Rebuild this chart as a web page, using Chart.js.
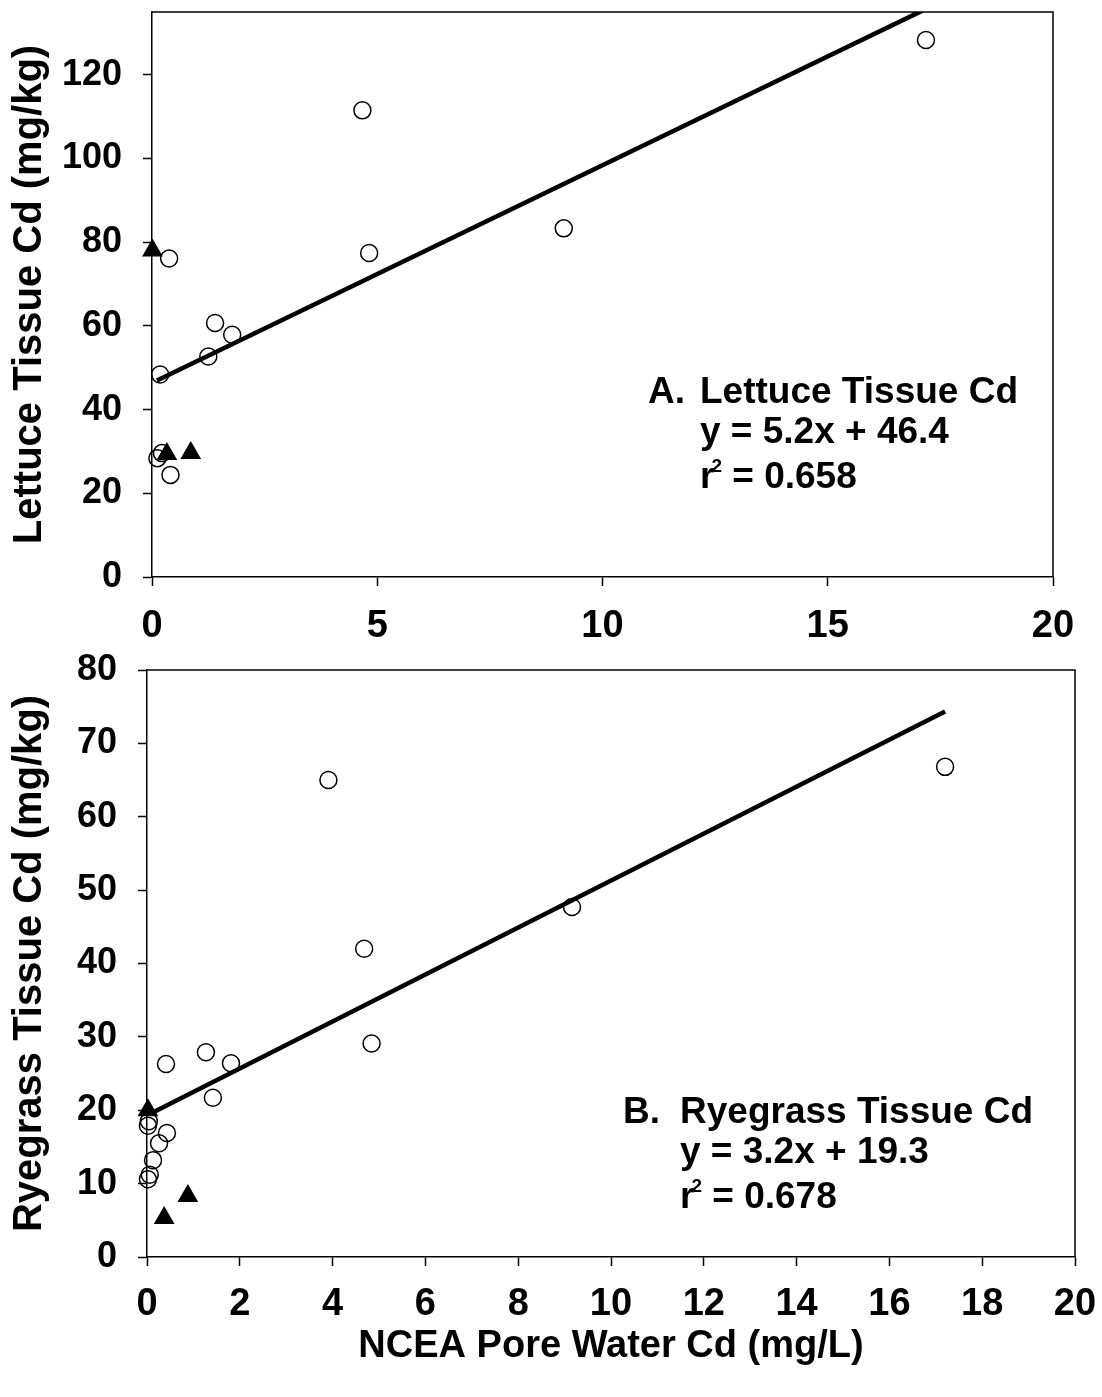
<!DOCTYPE html>
<html>
<head>
<meta charset="utf-8">
<script src="https://cdn.jsdelivr.net/npm/chart.js@4.4.0/dist/chart.umd.min.js"></script>
<style>
  body { margin: 0; background: #fff; }
  #wrap { position: relative; width: 1102px; height: 1397px; }
  .box { position: absolute; left: 0; width: 1102px; }
  #boxA { top: 0; height: 660px; }
  #boxB { top: 640px; height: 757px; }
</style>
</head>
<body>
<div id="wrap">
  <div class="box" id="boxA"><canvas id="lettuceChart"></canvas></div>
  <div class="box" id="boxB"><canvas id="ryegrassChart"></canvas></div>
</div>
<script>
// pore water Cd (mg/L) vs tissue Cd (mg/kg)
// open circles and filled triangles are two groups of soils

// --- lettuce ---
var lettuceCircleX = [17.18, 4.67, 4.82, 9.14, 0.38, 1.40, 1.78, 1.25, 0.18, 0.12, 0.22, 0.41];
var lettuceCircleY = [128.3, 111.5, 77.4, 83.3, 76.1, 60.7, 57.9, 52.7, 48.4, 28.4, 29.6, 24.4];
var lettuceTriX = [0.01, 0.33, 0.86];
var lettuceTriY = [78.0, 29.4, 29.6];
var lettuceFit = [5.2, 46.4];          // slope, intercept
var lettuceFitRange = [0.11, 17.1];
var lettuceXTicks = [0, 5, 10, 15, 20];
var lettuceYTicks = [0, 20, 40, 60, 80, 100, 120];

// --- ryegrass ---
var ryeCircleX = [17.2, 3.91, 9.16, 4.68, 4.84, 0.41, 1.27, 1.81, 1.42, 0.04, 0.02, 0.43, 0.26, 0.13, 0.06, 0.02];
var ryeCircleY = [66.8, 65.0, 47.7, 42.0, 29.1, 26.3, 27.9, 26.4, 21.7, 18.5, 17.9, 16.9, 15.5, 13.2, 11.2, 10.6];
var ryeTriX = [0.02, 0.88, 0.37];
var ryeTriY = [20.0, 8.3, 5.3];
var ryeFit = [3.2, 19.3];
var ryeFitRange = [0.05, 17.2];
var ryeXTicks = [0, 2, 4, 6, 8, 10, 12, 14, 16, 18, 20];
var ryeYTicks = [0, 10, 20, 30, 40, 50, 60, 70, 80];

var FONT = "'Liberation Sans', Arial, sans-serif";

function pairs(xs, ys) {
  return xs.map(function (x, i) { return { x: x, y: ys[i] }; });
}
function fitLine(fit, range) {
  return range.map(function (x) { return { x: x, y: fit[0] * x + fit[1] }; });
}

// box on the top and right of the plot area
var framePlugin = {
  id: 'frame',
  beforeDatasetsDraw: function (chart) {
    var a = chart.chartArea, ctx = chart.ctx;
    ctx.save();
    ctx.strokeStyle = '#000';
    ctx.lineWidth = 1.5;
    ctx.beginPath();
    ctx.moveTo(a.left, a.top);
    ctx.lineTo(a.right, a.top);
    ctx.lineTo(a.right, a.bottom);
    ctx.stroke();
    ctx.restore();
  }
};

// panel heading, regression equation and r^2
var fitTextPlugin = {
  id: 'fitText',
  afterDraw: function (chart, args, o) {
    var ctx = chart.ctx;
    ctx.save();
    ctx.fillStyle = '#000';
    ctx.textBaseline = 'alphabetic';
    ctx.font = 'bold 37px ' + FONT;
    ctx.fillText(o.letter, o.letterX, o.y1);
    ctx.fillText(o.title, o.x, o.y1);
    ctx.fillText(o.eq, o.x, o.y2);
    ctx.fillText('r', o.x, o.y3);
    var w = ctx.measureText('r').width;
    ctx.font = 'bold 19px ' + FONT;
    ctx.fillText('2', o.x + w - 3, o.y3 - 16);
    var w2 = ctx.measureText('2').width;
    ctx.font = 'bold 37px ' + FONT;
    ctx.fillText(' = ' + o.r2, o.x + w + w2 - 3, o.y3);
    ctx.restore();
  }
};

function makeChart(id, d) {
  return new Chart(document.getElementById(id), {
    type: 'scatter',
    data: {
      datasets: [
        {
          label: 'fit',
          type: 'line',
          data: fitLine(d.fit, d.fitRange),
          borderColor: '#000',
          borderWidth: 4.5,
          pointRadius: 0,
          fill: false,
          order: 3
        },
        {
          label: 'circles',
          data: pairs(d.cx, d.cy),
          pointStyle: 'circle',
          pointRadius: 8.5,
          backgroundColor: 'rgba(255,255,255,0)',
          borderColor: '#000',
          borderWidth: 1.5,
          clip: false,
          order: 2
        },
        {
          label: 'triangles',
          data: pairs(d.tx, d.ty),
          pointStyle: 'triangle',
          pointRadius: 12,
          backgroundColor: '#000',
          borderColor: '#000',
          borderWidth: 0,
          clip: false,
          order: 1
        }
      ]
    },
    options: {
      responsive: true,
      maintainAspectRatio: false,
      animation: false,
      events: [],
      layout: { padding: d.padding },
      plugins: {
        legend: { display: false },
        tooltip: { enabled: false },
        fitText: d.text
      },
      scales: {
        x: {
          type: 'linear',
          min: 0,
          max: 20,
          afterBuildTicks: function (s) { s.ticks = d.xTicks.map(function (v) { return { value: v }; }); },
          afterFit: function (s) {
            s.height = d.xHeight;
            s.paddingLeft = 0;
            s.paddingRight = 0;
          },
          grid: { drawOnChartArea: false, drawTicks: true, tickLength: 9, tickWidth: 1.5, color: '#000' },
          border: { color: '#000', width: 1.5 },
          ticks: { color: '#000', padding: d.xPad, font: { family: FONT, size: 38, weight: 'bold' }, maxRotation: 0 },
          title: d.xTitle ? {
            display: true,
            text: d.xTitle,
            color: '#000',
            font: { family: FONT, size: 38, weight: 'bold' },
            padding: { top: 0, bottom: 28 }
          } : { display: false }
        },
        y: {
          type: 'linear',
          min: 0,
          max: d.yMax,
          afterBuildTicks: function (s) { s.ticks = d.yTicks.map(function (v) { return { value: v }; }); },
          afterFit: function (s) {
            s.width = d.yWidth;
            s.paddingTop = 0;
            s.paddingBottom = 0;
          },
          grid: { drawOnChartArea: false, drawTicks: true, tickLength: 9, tickWidth: 1.5, color: '#000' },
          border: { color: '#000', width: 1.5 },
          ticks: { color: '#000', padding: 21, font: { family: FONT, size: 36, weight: 'bold' } },
          title: {
            display: true,
            text: d.yTitle,
            color: '#000',
            font: { family: FONT, size: 40, weight: 'bold' },
            padding: { top: 6, bottom: 0 }
          }
        }
      }
    },
    plugins: [framePlugin, fitTextPlugin]
  });
}

makeChart('lettuceChart', {
  cx: lettuceCircleX, cy: lettuceCircleY, tx: lettuceTriX, ty: lettuceTriY,
  fit: lettuceFit, fitRange: lettuceFitRange,
  xTicks: lettuceXTicks, yTicks: lettuceYTicks, yMax: 135,
  padding: { top: 11, right: 49, bottom: 0, left: 0 },
  xHeight: 83, yWidth: 152, xPad: 18,
  yTitle: 'Lettuce Tissue Cd (mg/kg)',
  text: { letter: 'A.', letterX: 648, title: 'Lettuce Tissue Cd', x: 700,
          eq: 'y = 5.2x + 46.4', r2: '0.658', y1: 403, y2: 443, y3: 488 }
});

makeChart('ryegrassChart', {
  cx: ryeCircleX, cy: ryeCircleY, tx: ryeTriX, ty: ryeTriY,
  fit: ryeFit, fitRange: ryeFitRange,
  xTicks: ryeXTicks, yTicks: ryeYTicks, yMax: 80,
  padding: { top: 30, right: 27, bottom: 0, left: 0 },
  xHeight: 140, yWidth: 147, xPad: 16,
  yTitle: 'Ryegrass Tissue Cd (mg/kg)',
  xTitle: 'NCEA Pore Water Cd (mg/L)',
  text: { letter: 'B.', letterX: 623, title: 'Ryegrass Tissue Cd', x: 680,
          eq: 'y = 3.2x + 19.3', r2: '0.678', y1: 483, y2: 523, y3: 568 }
});
</script>
</body>
</html>
